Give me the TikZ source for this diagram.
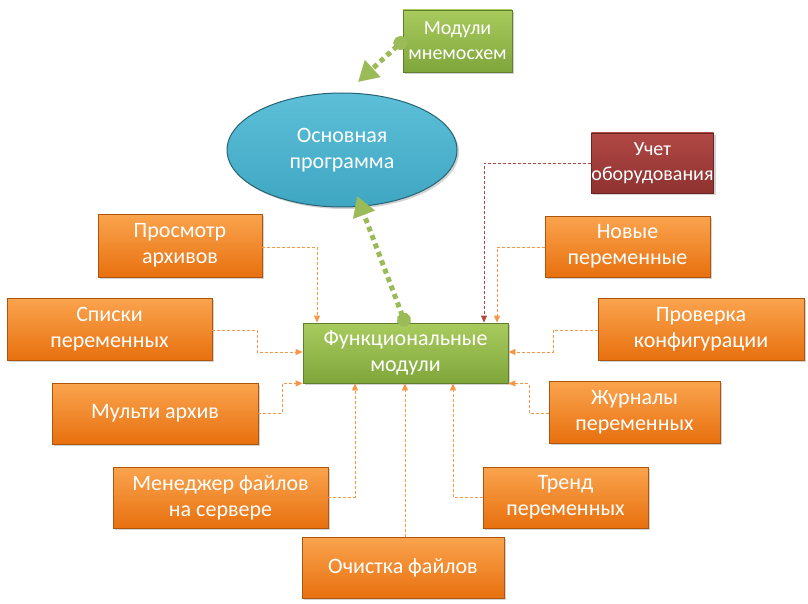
\documentclass[tikz,border=0pt]{standalone}
\usepackage{fontspec}
\setmainfont{Carlito}
\usetikzlibrary{arrows.meta,shapes.geometric,shadows}
\definecolor{orgt}{HTML}{FAA44E}
\definecolor{orgb}{HTML}{E8700F}
\definecolor{grnt}{HTML}{A9CB5E}
\definecolor{grnb}{HTML}{7FA63B}
\definecolor{grn}{HTML}{9BBB59}
\definecolor{org}{HTML}{F79646}
\definecolor{blut}{HTML}{5DBFD8}
\definecolor{blub}{HTML}{3FA6C2}
\definecolor{redt}{HTML}{B04845}
\definecolor{redb}{HTML}{8E3230}
\tikzset{
 bx/.style 2 args={draw=#2!75!black, line width=0.8pt, top color=#1, bottom color=#2, text=white, align=center, font=\fontsize{22}{26}\selectfont, inner sep=0pt, drop shadow={opacity=0.35,shadow xshift=2pt,shadow yshift=-2pt}},
 ob/.style={bx={orgt}{orgb}},
 gb/.style={bx={grnt}{grnb}},
 sm/.style={font=\fontsize{20}{25}\selectfont},
 con/.style={draw=org, line width=0.8pt, dash pattern=on 3pt off 2pt, -{Triangle[length=7pt,width=6pt]}},
 gar/.style={draw=grn, line width=5pt, dash pattern=on 5pt off 4pt, {Circle[length=14pt,width=14pt]}-{Triangle[length=20pt,width=22pt]}, shorten <=-4pt}
}
\begin{document}
\begin{tikzpicture}[x=1pt,y=-1pt]
\useasboundingbox (0,0) rectangle (808,604);
\newcommand{\bxat}[6]{\node[#1, minimum width=#4-#2 pt, minimum height=#5-#3 pt] (#6) at ({(#2+#4)/2},{(#3+#5)/2})}
\bxat{gb,sm}{403}{10}{512}{72}{mn} {Модули\\мнемосхем};
\node[ellipse, draw=blub!60!black, line width=1pt, top color=blut, bottom color=blub, minimum width=230pt, minimum height=114pt, text=white, align=center, font=\fontsize{22}{26}\selectfont, drop shadow={opacity=0.35,shadow xshift=2pt,shadow yshift=-2pt}] (op) at (342,150) {Основная\\программа};
\bxat{bx={redt}{redb},sm}{597}{133}{708}{193}{uch} {Учет\\оборудования};
\bxat{ob}{98}{214}{262}{277}{pr} {Просмотр\\архивов};
\bxat{ob}{545}{216}{710}{277}{nv} {Новые\\переменные};
\bxat{ob}{7}{298}{212}{360}{sp} {Списки\\переменных};
\bxat{gb}{303}{323}{508}{383}{fm} {Функциональные\\модули};
\bxat{ob}{598}{298}{804}{360}{pk} {Проверка\\конфигурации};
\bxat{ob}{52}{383}{258}{444}{ma} {Мульти архив};
\bxat{ob}{549}{381}{720}{443}{zh} {Журналы\\переменных};
\bxat{ob}{113}{467}{328}{528}{mf} {Менеджер файлов\\на сервере};
\bxat{ob}{483}{467}{648}{528}{tr} {Тренд\\переменных};
\bxat{ob}{302}{537}{504}{598}{oc} {Очистка файлов};
% connectors
\draw[con] (pr.east |- 0,247) -| (fm.north -| 317,0);
\draw[con] (nv.west |- 0,247) -| (fm.north -| 497,0);
\draw[con, draw=redt] (uch.west |- 0,163) -| (fm.north -| 484,0);
\draw[con] (sp.east |- 0,330) -- (257,330) |- (fm.west |- 0,352);
\draw[con] (pk.west |- 0,330) -- (553,330) |- (fm.east |- 0,352);
\draw[con] (ma.east |- 0,413) -- (282,413) |- (fm.south west);
\draw[con] (zh.west |- 0,413) -- (529,413) |- (fm.south east);
\draw[con] (mf.east |- 0,497) -| (fm.south -| 355,0);
\draw[con] (tr.west |- 0,497) -| (fm.south -| 453,0);
\draw[con] (oc.north -| 405,0) -- (fm.south -| 405,0);
\draw[gar] (fm.north -| 405,0) -- (357,196);
\draw[gar] (mn.west) -- (358,82);
\end{tikzpicture}
\end{document}
